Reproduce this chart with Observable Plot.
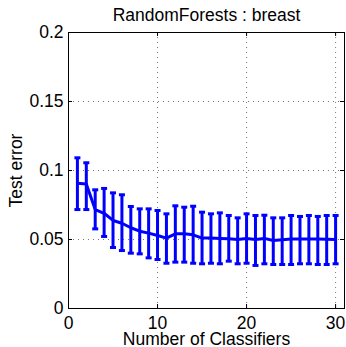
<!DOCTYPE html>
<html>
<head>
<meta charset="utf-8">
<script src="https://cdn.jsdelivr.net/npm/d3@7"></script>
<script src="https://cdn.jsdelivr.net/npm/@observablehq/plot@0.6"></script>
<style>
  html, body { margin: 0; padding: 0; background: #fff; }
</style>
</head>
<body>
<div id="chart"></div>
<script>
const title = "RandomForests : breast";
const xLabel = "Number of Classifiers";
const yLabel = "Test error";
const xTicks = [0, 10, 20, 30];
const yTicks = [0, 0.05, 0.1, 0.15, 0.2];
const numClassifiers = [1,2,3,4,5,6,7,8,9,10,11,12,13,14,15,16,17,18,19,20,21,22,23,24,25,26,27,28,29,30];
const meanError = [0.0908,0.0903,0.0717,0.069,0.0638,0.0618,0.0585,0.056,0.0546,0.0529,0.051,0.0541,0.0541,0.0534,0.051,0.051,0.0508,0.0505,0.05,0.0508,0.05,0.0508,0.0493,0.0498,0.0503,0.0503,0.0503,0.0503,0.0501,0.05];
const upperError = [0.1092,0.1056,0.086,0.087,0.0838,0.0824,0.0739,0.0722,0.0722,0.071,0.0686,0.0744,0.0734,0.0741,0.0698,0.0686,0.0693,0.0674,0.0657,0.0686,0.0674,0.0676,0.0657,0.0657,0.0674,0.0667,0.0674,0.0667,0.0674,0.0674];
const lowerError = [0.0717,0.0717,0.0577,0.0522,0.0442,0.042,0.0401,0.0396,0.0367,0.0355,0.0328,0.0336,0.0336,0.0328,0.0324,0.0328,0.0324,0.0343,0.0324,0.0328,0.0312,0.0324,0.0319,0.0319,0.0319,0.0324,0.0324,0.0319,0.0319,0.0324];

const data = numClassifiers.map((n, i) => ({n, m: meanError[i], hi: upperError[i], lo: lowerError[i]}));

const W = 346, H = 347;
const mL = 68, mR = 2, mT = 32, mB = 39;
const frameH = H - mT - mB, frameW = W - mL - mR;
const tickLen = 4;
const blue = "#0000ff";
const font = "'Liberation Sans', Arial, Helvetica, sans-serif";
const fs = 17.5;

const capSymbol = {
  draw(ctx) { ctx.moveTo(-3, 0); ctx.lineTo(3, 0); }
};

const chart = Plot.plot({
  width: W,
  height: H,
  marginLeft: mL,
  marginRight: mR,
  marginTop: mT,
  marginBottom: mB,
  style: { fontFamily: font, fontSize: fs + "px", background: "#fff", color: "#000" },
  x: { domain: [0, 31] },
  y: { domain: [0, 0.2] },
  marks: [
    Plot.gridX(xTicks.filter(d => d > 0), { stroke: "#777", strokeOpacity: 1, strokeDasharray: "1,4" }),
    Plot.gridY(yTicks.filter(d => d > 0 && d < 0.2), { stroke: "#777", strokeOpacity: 1, strokeDasharray: "1,4" }),
    // inward ticks
    Plot.ruleX(xTicks, { x: d => d, insetTop: frameH - tickLen, stroke: "#000" }),
    Plot.ruleX(xTicks, { x: d => d, insetBottom: frameH - tickLen, stroke: "#000" }),
    Plot.ruleY(yTicks, { y: d => d, insetRight: frameW - tickLen, stroke: "#000" }),
    Plot.ruleY(yTicks, { y: d => d, insetLeft: frameW - tickLen, stroke: "#000" }),
    Plot.frame({ stroke: "#000", strokeWidth: 1 }),
    Plot.axisX({ ticks: xTicks, tickSize: 0, tickPadding: 8, tickFormat: d => String(d), fontSize: fs, label: null }),
    Plot.axisY({ ticks: yTicks, tickSize: 0, tickPadding: 5, tickFormat: d => String(d), fontSize: fs, label: null }),
    // error bars
    Plot.ruleX(data, { x: "n", y1: "lo", y2: "hi", stroke: blue, strokeWidth: 3 }),
    Plot.dot(data, { x: "n", y: "hi", symbol: capSymbol, stroke: blue, strokeWidth: 3, fill: "none" }),
    Plot.dot(data, { x: "n", y: "lo", symbol: capSymbol, stroke: blue, strokeWidth: 3, fill: "none" }),
    Plot.line(data, { x: "n", y: "m", stroke: blue, strokeWidth: 3 }),
    // texts
    Plot.text([title], { text: d => d, frameAnchor: "top", lineAnchor: "middle", dy: -17, fontSize: fs, fill: "#000" }),
    Plot.text([xLabel], { text: d => d, frameAnchor: "bottom", lineAnchor: "middle", dy: 31, fontSize: fs, fill: "#000" }),
    Plot.text([yLabel], { text: d => d, frameAnchor: "left", textAnchor: "middle", lineAnchor: "middle", dx: -52, rotate: -90, fontSize: fs, fill: "#000" })
  ]
});

document.getElementById("chart").appendChild(chart);
</script>
</body>
</html>
